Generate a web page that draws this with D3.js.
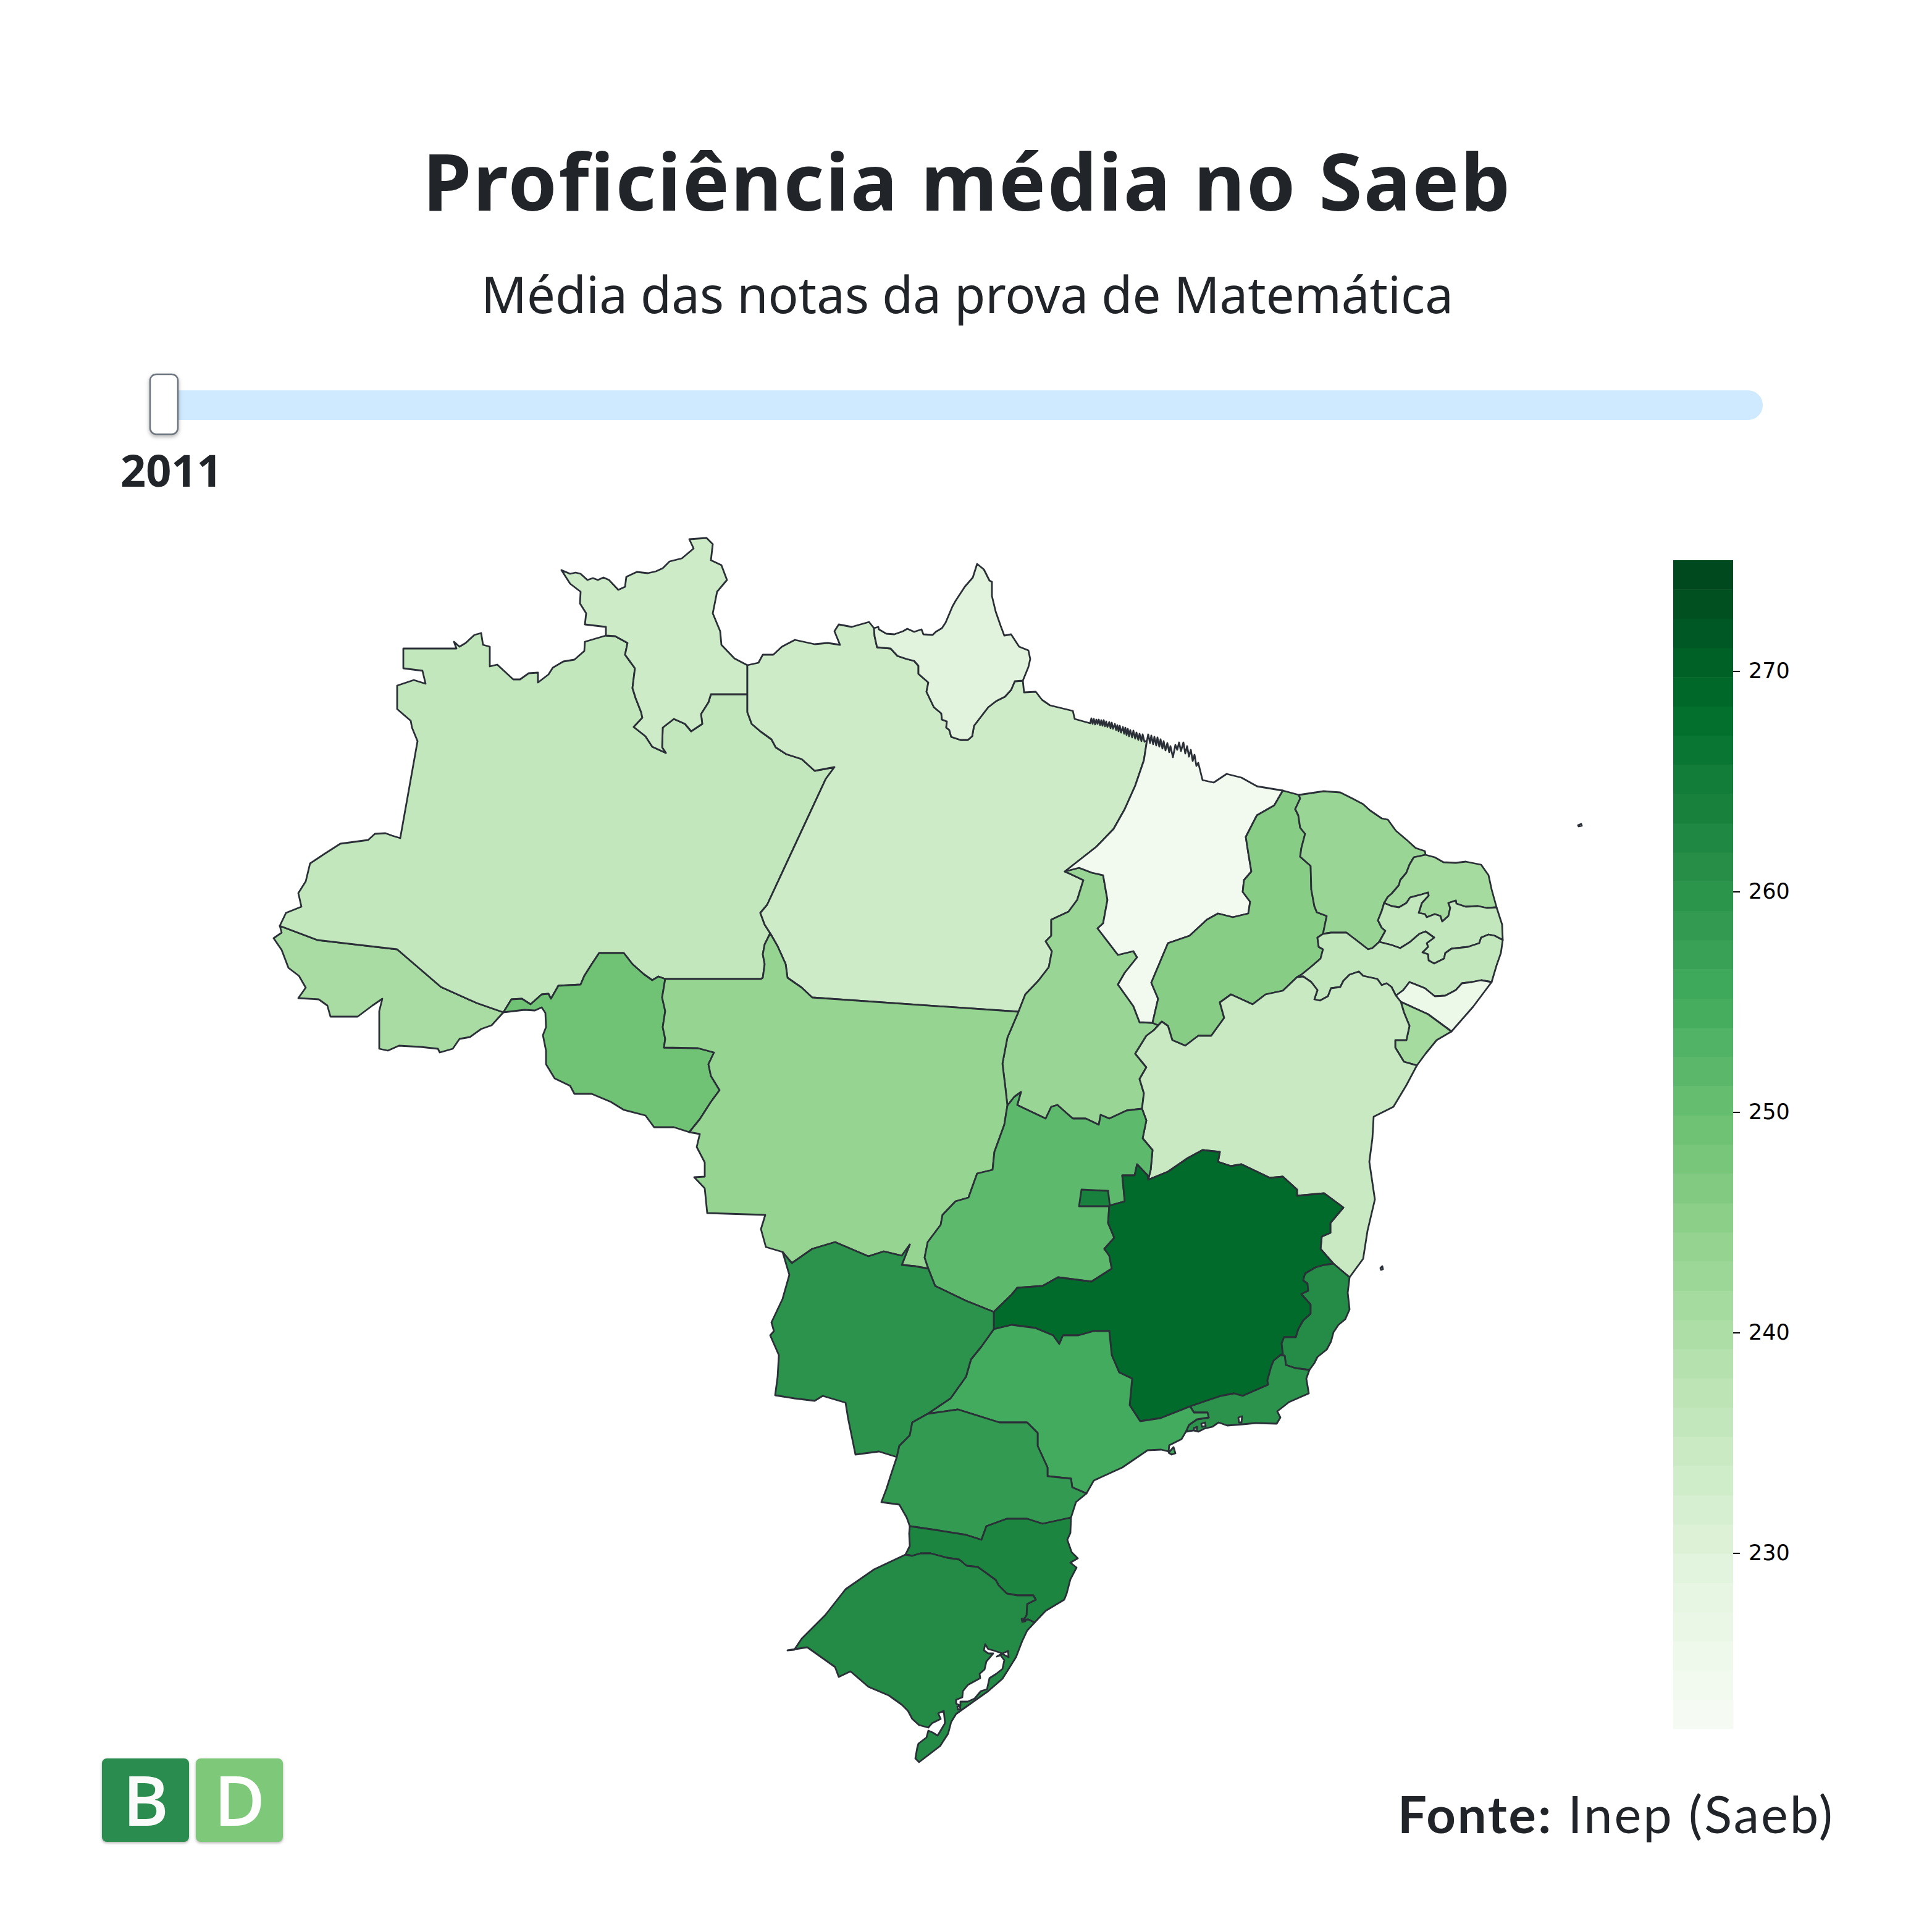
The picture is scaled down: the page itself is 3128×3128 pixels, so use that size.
<!DOCTYPE html>
<html>
<head>
<meta charset="utf-8">
<script src="https://cdn.jsdelivr.net/npm/d3@7"></script>
<style>
  html, body { margin: 0; padding: 0; background: #fff; }
  svg { display: block; }
</style>
</head>
<body>
<div id="chart"></div>
<script>
// Saeb values by state
const stateNames = ["AC","AM","RR","PA","AP","RO","TO","MA","PI","CE","RN","PB","PE","AL","SE","BA","MT","GO","DF","MG","ES","RJ","SP","MS","PR","SC","RS"];
const stateValues = [240.5,236,234,234,229.5,249,243,224,245.6,243,241,236,236,226,241,235,243.5,251.5,264,268.7,261.5,260,255,260,258.5,263,261.7];

const scaleMin = 222;
const scaleMax = 275;
const colorbarTicks = [230,240,250,260,270];
const greens = ["#f7fcf5","#e5f5e0","#c7e9c0","#a1d99b","#74c476","#41ab5d","#238b45","#006d2c","#00441b"];

const titleText = "Proficiência média no Saeb";
const subtitleText = "Média das notas da prova de Matemática";
const yearText = "2011";

// borders as quantised arcs (topojson style), 50.9 grid units per degree
const gridPerDegree = 50.9;
const lonOrigin = -82.71;
const latOrigin = 22.4;

const rr_north = [[981,1029],[981,1015],[947,1011],[949,993],[939,977],[940,958],[923,945],[909,923],[923,929],[932,927],[940,929],[951,939],[960,936],[968,939],[977,935],[986,939],[1001,955],[1012,950],[1014,934],[1031,926],[1049,928],[1062,925],[1073,920],[1084,909],[1104,904],[1123,888],[1116,873],[1144,871],[1154,881],[1151,907],[1168,915],[1177,939],[1161,958],[1154,993],[1166,1022],[1168,1044],[1189,1066],[1210,1077]];
const rr_pa = [[1210,1077],[1210,1124]];
const am_rr = [[1210,1124],[1151,1124],[1147,1137],[1135,1156],[1137,1172],[1119,1184],[1109,1172],[1091,1164],[1073,1178],[1072,1210],[1078,1219],[1056,1209],[1045,1192],[1026,1177],[1040,1162],[1038,1153],[1029,1130],[1024,1114],[1028,1082],[1012,1060],[1016,1041],[996,1030],[981,1029]];
const am_north = [[981,1029],[947,1039],[946,1054],[930,1068],[912,1071],[895,1081],[888,1092],[871,1105],[871,1089],[856,1090],[842,1100],[831,1100],[805,1076],[793,1079],[793,1047],[782,1044],[779,1025],[768,1028],[754,1041],[744,1047],[735,1039],[739,1050],[653,1050],[653,1082],[684,1086],[689,1107],[670,1101],[643,1110],[643,1148],[665,1167],[667,1178],[676,1200],[648,1357],[635,1353],[624,1349],[607,1350],[596,1360],[551,1366],[526,1382],[502,1398],[495,1427],[483,1446],[488,1468],[463,1478],[453,1499]];
const ac_am = [[453,1499],[514,1522],[643,1537],[714,1598],[772,1624],[815,1639]];
const ac_south = [[453,1499],[456,1510],[443,1519],[456,1538],[467,1567],[484,1580],[495,1599],[483,1616],[516,1618],[530,1628],[535,1646],[579,1646],[603,1628],[619,1617],[614,1637],[614,1698],[628,1701],[646,1693],[681,1695],[709,1698],[712,1704],[733,1698],[744,1682],[761,1679],[779,1666],[796,1660],[815,1639]];
const am_ro = [[815,1639],[828,1618],[845,1617],[859,1626],[877,1610],[888,1609],[892,1617],[904,1596],[940,1594],[946,1580],[958,1561],[970,1543],[1010,1543],[1024,1561],[1042,1577],[1056,1587],[1066,1581],[1077,1585]];
const ro_south = [[815,1639],[849,1635],[866,1636],[877,1631],[883,1640],[884,1663],[879,1676],[884,1701],[884,1723],[898,1746],[923,1758],[930,1771],[958,1771],[989,1784],[1010,1797],[1045,1806],[1059,1825],[1091,1825],[1116,1833]];
const ro_mt = [[1077,1585],[1072,1615],[1077,1637],[1073,1663],[1077,1682],[1075,1696],[1130,1697],[1156,1704],[1147,1723],[1151,1742],[1165,1765],[1151,1784],[1133,1812],[1116,1833]];
const am_pa = [[1210,1124],[1210,1153],[1217,1172],[1231,1184],[1249,1197],[1256,1210],[1273,1221],[1298,1229],[1319,1248],[1351,1242],[1337,1261],[1242,1465],[1231,1478],[1238,1497],[1247,1511]];
const am_mt = [[1247,1511],[1238,1529],[1235,1545],[1238,1561],[1235,1583],[1232,1585],[1077,1585]];
const pa_mt = [[1247,1511],[1259,1532],[1272,1561],[1275,1583],[1298,1599],[1315,1615],[1649,1638]];
const pa_north = [[1210,1077],[1228,1073],[1235,1060],[1252,1060],[1266,1047],[1287,1036],[1319,1043],[1340,1041],[1360,1044],[1351,1022],[1358,1011],[1379,1015],[1407,1007],[1415,1017]];
const ap_north = [[1415,1017],[1422,1015],[1423,1019],[1435,1026],[1448,1027],[1462,1022],[1469,1018],[1480,1023],[1492,1019],[1495,1027],[1510,1028],[1515,1023],[1525,1017],[1531,1008],[1542,982],[1547,973],[1562,950],[1575,935],[1582,913],[1593,922],[1602,940],[1606,942],[1606,965],[1612,990],[1620,1013],[1626,1029],[1637,1027],[1650,1047],[1665,1053],[1668,1067],[1665,1080],[1656,1102]];
const ap_pa = [[1656,1102],[1643,1103],[1637,1117],[1627,1128],[1613,1135],[1600,1145],[1590,1158],[1577,1175],[1574,1192],[1567,1198],[1555,1198],[1540,1193],[1537,1182],[1532,1178],[1533,1168],[1525,1165],[1524,1155],[1512,1145],[1500,1120],[1503,1105],[1487,1091],[1487,1078],[1480,1070],[1468,1067],[1453,1062],[1442,1050],[1420,1048],[1416,1030],[1415,1017]];
const pa_coast = [[1656,1102],[1658,1121],[1677,1120],[1687,1133],[1700,1142],[1737,1151],[1740,1164],[1765,1171],[1767,1163],[1769,1172],[1771,1164],[1773,1173],[1775,1165],[1777,1172],[1779,1165],[1781,1174],[1783,1166],[1785,1175],[1787,1166],[1789,1176],[1791,1168],[1793,1177],[1796,1169],[1798,1179],[1800,1170],[1802,1180],[1805,1172],[1807,1182],[1809,1174],[1811,1184],[1813,1175],[1815,1186],[1818,1177],[1820,1188],[1822,1178],[1824,1190],[1826,1180],[1828,1192],[1830,1182],[1833,1194],[1835,1183],[1838,1196],[1840,1186],[1843,1198],[1845,1188],[1848,1200],[1850,1189],[1853,1201],[1857,1199]];
const ma_coast = [[1857,1199],[1859,1189],[1862,1203],[1864,1191],[1867,1205],[1869,1193],[1872,1207],[1874,1194],[1877,1209],[1879,1197],[1882,1212],[1884,1200],[1887,1215],[1890,1203],[1893,1218],[1895,1208],[1899,1226],[1903,1206],[1906,1214],[1909,1202],[1912,1216],[1916,1202],[1919,1220],[1922,1208],[1925,1225],[1928,1214],[1931,1232],[1934,1222],[1937,1240],[1940,1235],[1947,1263],[1965,1267],[1986,1253],[2010,1259],[2035,1273],[2077,1280]];
const pa_ma = [[1857,1199],[1852,1231],[1838,1272],[1821,1310],[1803,1342],[1775,1371],[1724,1411]];
const pa_to = [[1724,1411],[1735,1416],[1754,1425],[1744,1457],[1730,1476],[1702,1489],[1702,1515],[1693,1524],[1703,1540],[1698,1566],[1681,1588],[1660,1610],[1649,1638]];
const ma_to = [[1724,1411],[1747,1405],[1768,1413],[1786,1417],[1793,1457],[1786,1495],[1777,1503],[1810,1546],[1835,1540],[1841,1550],[1821,1575],[1810,1594],[1835,1629],[1845,1655],[1866,1656]];
const ma_pi = [[1866,1656],[1875,1617],[1864,1591],[1891,1527],[1926,1515],[1954,1489],[1972,1479],[1996,1485],[2021,1479],[2024,1460],[2012,1444],[2014,1425],[2026,1411],[2021,1381],[2017,1355],[2035,1320],[2063,1304],[2077,1280]];
const pi_coast = [[2077,1280],[2103,1287]];
const pi_ce = [[2103,1287],[2105,1293],[2097,1310],[2102,1320],[2105,1340],[2113,1350],[2107,1373],[2105,1387],[2122,1402],[2123,1440],[2128,1467],[2132,1477],[2148,1483],[2142,1512]];
const pi_pe = [[2142,1512],[2133,1518],[2135,1533],[2142,1537],[2138,1552],[2123,1565],[2107,1578],[2100,1582]];
const pi_ba = [[2100,1582],[2077,1604],[2049,1610],[2028,1626],[1993,1610],[1975,1623],[1982,1648],[1961,1677],[1940,1677],[1919,1693],[1898,1684],[1891,1661],[1881,1654]];
const to_pi = [[1866,1656],[1875,1660],[1881,1654]];
const to_ba = [[1881,1654],[1868,1668],[1856,1677],[1838,1706],[1856,1728],[1845,1747],[1852,1770],[1849,1795]];
const to_go = [[1849,1795],[1824,1798],[1796,1811],[1782,1805],[1779,1821],[1758,1811],[1737,1811],[1730,1805],[1712,1789],[1702,1792],[1693,1811],[1653,1792],[1647,1789],[1653,1768],[1642,1776],[1631,1790]];
const to_mt = [[1649,1638],[1631,1680],[1623,1722],[1628,1763],[1631,1790]];
const mt_go = [[1631,1790],[1626,1821],[1610,1865],[1607,1894],[1582,1900],[1568,1939],[1547,1945],[1526,1967],[1523,1983],[1502,2011],[1497,2036],[1503,2054]];
const mt_ms = [[1503,2054],[1481,2050],[1460,2048],[1473,2015],[1460,2033],[1431,2026],[1406,2034],[1352,2011],[1315,2022],[1282,2045],[1267,2027]];
const mt_west = [[1116,1833],[1133,1836],[1128,1857],[1141,1882],[1141,1905],[1124,1906],[1141,1924],[1145,1964],[1239,1967],[1232,1990],[1240,2019],[1267,2027]];
const go_ms = [[1503,2054],[1514,2082],[1564,2106],[1609,2124]];
const go_mg = [[1609,2124],[1638,2096],[1647,2085],[1688,2082],[1713,2068],[1767,2075],[1800,2054],[1796,2033],[1788,2022],[1804,2004],[1794,1980],[1796,1952],[1821,1945],[1817,1903],[1837,1903],[1841,1885],[1858,1903],[1859,1910]];
const go_ba = [[1849,1795],[1856,1814],[1850,1843],[1866,1862],[1863,1894],[1859,1910]];
const df_ring = [[1751,1926],[1794,1928],[1797,1953],[1747,1953],[1751,1926]];
const ba_mg = [[1859,1910],[1891,1897],[1923,1875],[1947,1862],[1975,1865],[1972,1881],[1993,1888],[2010,1885],[2056,1907],[2077,1905],[2100,1926],[2100,1936],[2144,1932],[2175,1955],[2154,1980],[2154,1996],[2140,2002],[2138,2022],[2159,2046]];
const ba_es = [[2159,2046],[2185,2068]];
const es_mg = [[2159,2046],[2144,2048],[2130,2052],[2113,2062],[2110,2073],[2117,2078],[2118,2090],[2107,2095],[2122,2112],[2122,2127],[2110,2138],[2102,2152],[2098,2165],[2079,2165],[2075,2175],[2077,2192],[2073,2194]];
const es_rj = [[2073,2194],[2080,2195],[2082,2210],[2097,2215],[2120,2218]];
const es_coast = [[2185,2068],[2182,2093],[2185,2120],[2178,2136],[2167,2145],[2159,2157],[2155,2172],[2148,2185],[2133,2197],[2128,2207],[2120,2218]];
const rj_coast = [[2120,2218],[2115,2232],[2119,2256],[2087,2270],[2068,2285],[2073,2295],[2067,2305],[2033,2304],[2012,2306],[1987,2308],[1973,2303],[1963,2310],[1950,2313],[1940,2318],[1932,2316],[1920,2318]];
const mg_rj = [[2073,2194],[2062,2203],[2058,2213],[2052,2235],[2053,2242],[2012,2260],[1998,2256],[1977,2260],[1953,2268],[1927,2277]];
const rj_sp = [[1927,2277],[1933,2287],[1955,2287],[1957,2295],[1938,2298],[1925,2307],[1920,2318]];
const mg_sp = [[1927,2277],[1879,2296],[1846,2301],[1829,2275],[1833,2232],[1812,2222],[1800,2194],[1796,2155],[1771,2155],[1746,2162],[1721,2162],[1715,2176],[1705,2162],[1676,2150],[1638,2145],[1609,2152]];
const mg_ms = [[1609,2152],[1609,2124]];
const ms_sp = [[1609,2152],[1589,2180],[1572,2201],[1564,2229],[1539,2264],[1502,2289]];
const sp_pr = [[1502,2289],[1551,2282],[1618,2303],[1663,2303],[1680,2320],[1680,2341],[1696,2376],[1696,2390],[1734,2394],[1736,2408],[1759,2418]];
const sp_coast = [[1920,2318],[1913,2330],[1893,2340],[1892,2350],[1880,2347],[1858,2348],[1817,2376],[1771,2397],[1759,2418]];
const ms_pr = [[1502,2289],[1477,2303],[1473,2324],[1456,2341],[1452,2359]];
const ms_south = [[1267,2027],[1278,2064],[1267,2103],[1249,2141],[1253,2155],[1247,2162],[1261,2194],[1259,2229],[1255,2259],[1286,2264],[1319,2268],[1332,2260],[1369,2271],[1373,2296],[1385,2355],[1423,2350],[1452,2359]];
const pr_west = [[1452,2359],[1444,2383],[1435,2411],[1427,2432],[1456,2436],[1468,2457],[1473,2471]];
const pr_coast = [[1759,2418],[1742,2432],[1734,2457]];
const pr_sc = [[1473,2471],[1514,2477],[1564,2485],[1589,2493],[1597,2471],[1630,2459],[1663,2459],[1688,2467],[1734,2457]];
const sc_coast = [[1734,2457],[1733,2482],[1728,2493],[1735,2513],[1745,2523],[1733,2530],[1743,2538],[1733,2557],[1727,2580],[1723,2590],[1693,2608],[1675,2627]];
const sc_rs = [[1675,2627],[1665,2622],[1657,2623],[1662,2615],[1663,2597],[1677,2590],[1673,2583],[1647,2583],[1630,2580],[1617,2567],[1612,2558],[1597,2547],[1583,2537],[1565,2535],[1553,2525],[1533,2522],[1507,2515],[1490,2515],[1477,2519],[1466,2517]];
const sc_west = [[1466,2517],[1473,2503],[1472,2483],[1473,2471]];
const rs_outer = [[1466,2517],[1415,2541],[1369,2573],[1336,2615],[1298,2653],[1286,2671],[1275,2672],[1307,2667],[1352,2699],[1358,2715],[1377,2706],[1406,2731],[1439,2745],[1460,2760],[1470,2770],[1477,2783],[1488,2793],[1503,2797],[1509,2790],[1523,2783],[1519,2774],[1528,2770],[1530,2790],[1518,2810],[1510,2805],[1503,2802],[1500,2813],[1487,2823],[1485,2830],[1482,2847],[1488,2853],[1522,2827],[1535,2807],[1540,2788],[1548,2775],[1555,2770],[1583,2750],[1600,2738],[1623,2718],[1645,2683],[1655,2657],[1663,2640],[1675,2627]];
const patos_ring = [[1595,2662],[1593,2672],[1600,2677],[1608,2677],[1603,2683],[1597,2690],[1594,2703],[1586,2710],[1587,2717],[1567,2728],[1559,2738],[1558,2748],[1548,2752],[1548,2758],[1555,2762],[1555,2755],[1567,2755],[1578,2750],[1588,2738],[1598,2735],[1602,2717],[1613,2710],[1623,2702],[1626,2688],[1620,2680],[1614,2682],[1623,2677],[1632,2673],[1633,2683],[1627,2680],[1620,2676],[1608,2672],[1600,2670],[1595,2662]];
const ce_coast = [[2103,1287],[2123,1284],[2143,1281],[2170,1283],[2190,1293],[2207,1302],[2218,1312],[2237,1325],[2247,1327],[2260,1345],[2280,1362],[2292,1373],[2307,1378],[2308,1384]];
const ce_rn = [[2308,1384],[2289,1388],[2282,1400],[2277,1413],[2267,1425],[2265,1433],[2253,1447],[2247,1452],[2241,1462]];
const ce_pb = [[2241,1462],[2237,1475],[2231,1490],[2237,1502],[2243,1507],[2233,1525]];
const ce_pe = [[2233,1525],[2222,1535],[2215,1537],[2197,1523],[2180,1510],[2155,1510],[2142,1512]];
const rn_coast = [[2308,1384],[2323,1388],[2337,1396],[2357,1397],[2373,1395],[2398,1400],[2410,1417],[2415,1440],[2423,1469]];
const rn_pb = [[2241,1462],[2253,1467],[2265,1469],[2277,1462],[2283,1453],[2302,1448],[2312,1445],[2313,1450],[2302,1462],[2297,1478],[2307,1480],[2310,1485],[2323,1480],[2332,1483],[2335,1492],[2345,1483],[2348,1470],[2345,1462],[2357,1458],[2358,1463],[2373,1468],[2393,1467],[2407,1470],[2423,1469]];
const pb_coast = [[2423,1469],[2432,1497],[2433,1522]];
const pb_pe = [[2433,1522],[2420,1515],[2410,1513],[2398,1518],[2395,1527],[2377,1533],[2350,1536],[2340,1543],[2338,1552],[2322,1560],[2313,1555],[2312,1545],[2303,1542],[2312,1533],[2310,1527],[2322,1518],[2308,1508],[2298,1512],[2283,1525],[2267,1535],[2253,1530],[2233,1525]];
const pe_coast = [[2433,1522],[2430,1543],[2423,1563],[2415,1590]];
const pe_al = [[2415,1590],[2398,1587],[2383,1590],[2367,1592],[2357,1603],[2340,1612],[2323,1613],[2307,1600],[2282,1590],[2272,1603],[2260,1612]];
const pe_ba = [[2260,1612],[2253,1598],[2245,1592],[2237,1595],[2230,1585],[2207,1580],[2200,1573],[2185,1578],[2175,1588],[2170,1598],[2155,1600],[2150,1613],[2137,1620],[2128,1618],[2133,1603],[2123,1590],[2110,1581],[2100,1582]];
const al_ba = [[2260,1612],[2268,1622]];
const al_se = [[2268,1622],[2312,1642],[2350,1670]];
const al_coast = [[2415,1590],[2385,1630],[2350,1670]];
const se_coast = [[2350,1670],[2326,1684],[2308,1706],[2294,1725]];
const se_ba = [[2268,1622],[2273,1639],[2282,1661],[2277,1684],[2259,1684],[2259,1696],[2273,1719],[2294,1725]];
const ba_coast = [[2294,1725],[2277,1757],[2256,1792],[2224,1808],[2222,1843],[2217,1881],[2226,1942],[2214,1993],[2207,2038],[2185,2068]];
const noronha_ring = [[2555,1336],[2560,1334],[2561,1337],[2556,1338],[2555,1336]];
const abrolhos_ring = [[2235,2053],[2238,2050],[2239,2055],[2236,2056],[2235,2053]];
const ilhabela_ring = [[1892,2352],[1900,2343],[1903,2353],[1897,2355],[1892,2352]];
const guanabara_ring = [[2005,2295],[2011,2293],[2010,2303],[2006,2303],[2005,2295]];
const sepetiba_ring = [[1945,2305],[1951,2303],[1952,2309],[1946,2310],[1945,2305]];
const marica_ring = [[1933,2312],[1938,2310],[1938,2316],[1933,2316],[1933,2312]];
const peixe_ring = [[1550,2763],[1554,2762],[1555,2767],[1551,2768],[1550,2763]];
const mampituba_ring = [[1654,2621],[1659,2620],[1660,2625],[1655,2626],[1654,2621]];

const arcTable = {rr_north,rr_pa,am_rr,am_north,ac_am,ac_south,am_ro,ro_south,ro_mt,am_pa,am_mt,pa_mt,pa_north,ap_north,ap_pa,pa_coast,ma_coast,pa_ma,pa_to,ma_to,ma_pi,pi_coast,pi_ce,pi_pe,pi_ba,to_pi,to_ba,to_go,to_mt,mt_go,mt_ms,mt_west,go_ms,go_mg,go_ba,df_ring,ba_mg,ba_es,es_mg,es_rj,es_coast,rj_coast,mg_rj,rj_sp,mg_sp,mg_ms,ms_sp,sp_pr,sp_coast,ms_pr,ms_south,pr_west,pr_coast,pr_sc,sc_coast,sc_rs,sc_west,rs_outer,patos_ring,ce_coast,ce_rn,ce_pb,ce_pe,rn_coast,rn_pb,pb_coast,pb_pe,pe_coast,pe_al,pe_ba,al_ba,al_se,al_coast,se_coast,se_ba,ba_coast,noronha_ring,abrolhos_ring,ilhabela_ring,guanabara_ring,sepetiba_ring,marica_ring,peixe_ring,mampituba_ring};

// polygons per state, same order as stateNames: polygon > rings > arcs, "-" runs an arc backwards
const stateArcs = [
  [[["ac_south","-ac_am"]]],
  [[["am_north","ac_am","am_ro","-am_mt","-am_pa","am_rr"]]],
  [[["rr_north","rr_pa","am_rr"]]],
  [[["pa_north","-ap_pa","pa_coast","pa_ma","pa_to","-pa_mt","-am_pa","-rr_pa"]]],
  [[["ap_north","ap_pa"]]],
  [[["am_ro","ro_mt","-ro_south"]]],
  [[["ma_to","to_pi","to_ba","to_go","-to_mt","-pa_to"]]],
  [[["ma_coast","-ma_pi","-ma_to","-pa_ma"]]],
  [[["pi_coast","pi_ce","pi_pe","pi_ba","-to_pi","ma_pi"]]],
  [[["ce_coast","ce_rn","ce_pb","ce_pe","-pi_ce"]]],
  [[["rn_coast","-rn_pb","-ce_rn"]]],
  [[["rn_pb","pb_coast","pb_pe","-ce_pb"]]],
  [[["-pb_pe","pe_coast","pe_al","pe_ba","-pi_pe","-ce_pe"]],[["noronha_ring"]]],
  [[["al_coast","-al_se","-al_ba","-pe_al"]]],
  [[["al_se","se_coast","-se_ba"]]],
  [[["ba_coast","-ba_es","-ba_mg","-go_ba","-to_ba","-pi_ba","-pe_ba","al_ba","se_ba"]],[["abrolhos_ring"]]],
  [[["pa_mt","to_mt","mt_go","mt_ms","-mt_west","-ro_mt","-am_mt"]]],
  [[["-to_go","go_ba","-go_mg","-go_ms","-mt_go"]]],
  [[["df_ring"]]],
  [[["go_mg","ba_mg","es_mg","mg_rj","mg_sp","mg_ms"]]],
  [[["ba_es","es_coast","-es_rj","-es_mg"]]],
  [[["es_rj","rj_coast","-rj_sp","-mg_rj"],["guanabara_ring"]],[["sepetiba_ring"]],[["marica_ring"]]],
  [[["rj_sp","sp_coast","-sp_pr","-ms_sp","-mg_sp"]],[["ilhabela_ring"]]],
  [[["-mt_ms","go_ms","-mg_ms","ms_sp","ms_pr","-ms_south"]]],
  [[["sp_pr","pr_coast","-pr_sc","-pr_west","-ms_pr"]]],
  [[["pr_sc","sc_coast","sc_rs","sc_west"]]],
  [[["rs_outer","sc_rs"],["patos_ring"]],[["peixe_ring"]],[["mampituba_ring"]]]
];

const toLonLat = p => [lonOrigin + p[0] / gridPerDegree, latOrigin - p[1] / gridPerDegree];
const buildRing = names => names.flatMap(n => {
  const pts = n[0] === "-" ? arcTable[n.slice(1)].slice().reverse() : arcTable[n];
  return pts.map(toLonLat);
});
const features = stateNames.map((name, i) => ({
  type: "Feature",
  properties: { name: name, value: stateValues[i] },
  geometry: { type: "MultiPolygon", coordinates: stateArcs[i].map(poly => poly.map(buildRing)) }
}));

const width = 3128, height = 3128;
const ink = "#212529";

const svg = d3.select("#chart").append("svg").attr("width", width).attr("height", height).attr("viewBox", [0, 0, width, height]);

const colorDomain = greens.map((c, i) => scaleMin + (scaleMax - scaleMin) * i / (greens.length - 1));
const color = d3.scaleLinear().domain(colorDomain).range(greens);

// map
const projection = d3.geoIdentity().reflectY(true).scale(gridPerDegree).translate([-lonOrigin * gridPerDegree, latOrigin * gridPerDegree]);
const path = d3.geoPath(projection);

svg.append("g").selectAll("path").data(features).join("path")
  .attr("d", path)
  .attr("fill", d => color(d.properties.value))
  .attr("fill-rule", "evenodd")
  .attr("stroke", "#2a2f38")
  .attr("stroke-width", 2.8)
  .attr("stroke-linejoin", "round");

// title
svg.append("text").attr("x", 1566).attr("y", 341).attr("text-anchor", "middle")
  .attr("font-family", "'Noto Sans'").attr("font-weight", 700).attr("font-size", 127).attr("letter-spacing", 2.5).attr("fill", ink).text(titleText);
svg.append("text").attr("x", 1566).attr("y", 507).attr("text-anchor", "middle")
  .attr("font-family", "'Noto Sans'").attr("font-size", 81.5).attr("fill", ink).text(subtitleText);

// slider
svg.append("rect").attr("x", 243).attr("y", 632).attr("width", 2619).attr("height", 48).attr("rx", 24).attr("fill", "#cfe9fe").attr("width", 2619 - 8);
svg.append("rect").attr("x", 243).attr("y", 606).attr("width", 45).attr("height", 97).attr("rx", 10)
  .attr("fill", "#fff").attr("stroke", "#6c757d").attr("stroke-width", 2.5)
  .style("filter", "drop-shadow(0 3px 3px rgba(0,0,0,.3))");
svg.append("text").attr("x", 195).attr("y", 788)
  .attr("font-family", "'Open Sans'").attr("font-weight", 700).attr("font-size", 72).attr("fill", ink).text(yearText);

// colorbar
const barY = d3.scaleLinear().domain([scaleMin, scaleMax]).range([2799, 907]);
const bandCount = 40;
const bandEdges = d3.range(bandCount).map(i => scaleMin + (scaleMax - scaleMin) * i / bandCount);
const bandStep = (scaleMax - scaleMin) / bandCount;
svg.append("g").selectAll("rect").data(bandEdges).join("rect")
  .attr("x", 2709).attr("width", 97)
  .attr("y", d => barY(d + bandStep))
  .attr("height", d => barY(d) - barY(d + bandStep) + 0.5)
  .attr("fill", d => color(d + bandStep / 2));

const barAxis = d3.axisRight(barY).tickValues(colorbarTicks).tickSize(11).tickPadding(14).tickFormat(d3.format("d"));
const axisG = svg.append("g").attr("transform", "translate(2806,1)").call(barAxis);
axisG.select(".domain").remove();
axisG.selectAll("line").attr("stroke", "#000").attr("stroke-width", 2);
axisG.selectAll("text").attr("font-family", "'DejaVu Sans'").attr("font-size", 35).attr("fill", "#000");

// logo
const logo = svg.append("g").style("filter", "drop-shadow(0 2px 2px rgba(0,0,0,.3))");
logo.append("rect").attr("x", 165).attr("y", 2847).attr("width", 141).attr("height", 135).attr("rx", 8).attr("fill", "#2b8c4f");
logo.append("rect").attr("x", 317).attr("y", 2847).attr("width", 141).attr("height", 135).attr("rx", 8).attr("fill", "#7ec87a");
logo.append("text").attr("x", 236).attr("y", 2956).attr("text-anchor", "middle")
  .attr("font-family", "'Open Sans'").attr("font-weight", 600).attr("font-size", 113).attr("fill", "#fafafa").text("B");
logo.append("text").attr("x", 388).attr("y", 2956).attr("text-anchor", "middle")
  .attr("font-family", "'Open Sans'").attr("font-weight", 600).attr("font-size", 113).attr("fill", "#fff").text("D");

// source
const source = svg.append("text").attr("x", 2970).attr("y", 2968).attr("text-anchor", "end")
  .attr("font-family", "Lato").attr("font-size", 83).attr("letter-spacing", 3).attr("fill", ink);
source.append("tspan").attr("font-weight", 700).text("Fonte:");
source.append("tspan").text(" Inep (Saeb)");
</script>
</body>
</html>
